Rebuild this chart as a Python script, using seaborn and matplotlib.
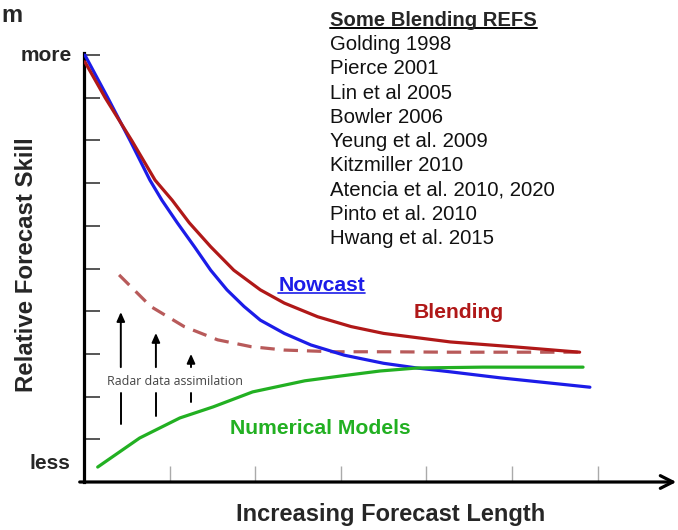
import matplotlib
matplotlib.use("Agg")
import matplotlib.pyplot as plt
from matplotlib.lines import Line2D
from matplotlib.transforms import IdentityTransform
import pandas as pd
import seaborn as sns

# Relative forecast skill versus forecast length (arbitrary units)
nowcast_x = [0.01, 0.28, 0.54, 0.77, 0.91, 1.09, 1.29, 1.48, 1.67, 1.87, 2.06, 2.34,
             2.65, 3.04, 3.50, 3.89, 4.28, 4.86, 5.91]
nowcast_y = [10.0, 8.99, 7.99, 7.07, 6.60, 6.07, 5.51, 4.96, 4.50, 4.11, 3.79, 3.48,
             3.21, 2.97, 2.78, 2.67, 2.58, 2.44, 2.22]

blending_x = [0.01, 0.25, 0.56, 0.83, 1.03, 1.23, 1.48, 1.75, 2.06, 2.34, 2.73, 3.12,
              3.50, 4.28, 5.06, 5.79]
blending_y = [9.84, 8.99, 7.99, 7.07, 6.60, 6.07, 5.51, 4.96, 4.50, 4.19, 3.87, 3.64,
              3.48, 3.28, 3.16, 3.04]

nwp_x = [0.16, 0.65, 1.12, 1.51, 1.97, 2.58, 2.99, 3.46, 3.89, 4.66, 5.83]
nwp_y = [0.35, 1.03, 1.50, 1.76, 2.11, 2.37, 2.48, 2.60, 2.67, 2.69, 2.69]

assim_x = [0.41, 0.78, 1.17, 1.56, 1.95, 2.34, 2.92, 3.50, 4.28, 5.79]
assim_y = [4.85, 4.11, 3.64, 3.33, 3.17, 3.09, 3.05, 3.05, 3.04, 3.04]

# radar data assimilation arrows: x position, head, shaft end, lower stroke
arrow_x = [0.43, 0.84, 1.25]
arrow_top = [3.98, 3.49, 3.00]
arrow_bottom = [2.69, 2.69, 2.69]
stroke_top = [2.08, 2.08, 2.08]
stroke_bottom = [1.36, 1.55, 1.87]

skill_ticks = [1, 2, 3, 4, 5, 6, 7, 8, 9, 10]
length_ticks = [1, 2, 3, 4, 5, 6]

references = ["Golding 1998", "Pierce 2001", "Lin et al 2005", "Bowler 2006",
              "Yeung et al. 2009", "Kitzmiller 2010", "Atencia et al. 2010, 2020",
              "Pinto et al. 2010", "Hwang et al. 2015"]

BLUE = "#1c1ce8"
RED = "#b01818"
GREEN = "#22b022"
DASH = "#b85a5a"

sns.set_theme(style="white")
plt.rcParams["font.family"] = ["Liberation Sans", "DejaVu Sans"]

W, H = 678, 530
fig = plt.figure(figsize=(W / 100, H / 100), dpi=100)
XS, YS = 85.6, 42.7  # pixels per data unit
ax = fig.add_axes([84 / W, 48 / H, (W - 84) / W, 482 / H])
ax.set_xlim(0, (W - 84) / XS)
ax.set_ylim(0, 482 / YS)

df = pd.concat([
    pd.DataFrame({"length": nowcast_x, "skill": nowcast_y, "curve": "Nowcast"}),
    pd.DataFrame({"length": blending_x, "skill": blending_y, "curve": "Blending"}),
    pd.DataFrame({"length": nwp_x, "skill": nwp_y, "curve": "Numerical Models"}),
])
sns.lineplot(data=df, x="length", y="skill", hue="curve", sort=False,
             palette={"Nowcast": BLUE, "Blending": RED, "Numerical Models": GREEN},
             linewidth=2.3, legend=False, ax=ax, zorder=3,
             solid_joinstyle="round", solid_capstyle="round")
sns.lineplot(x=assim_x, y=assim_y, sort=False, color=DASH, linewidth=2.3,
             linestyle=(0, (4.5, 2.8)), ax=ax, zorder=2)

# axes frame
for s in ["top", "right", "bottom"]:
    ax.spines[s].set_visible(False)
ax.spines["left"].set_linewidth(2.3)
ax.spines["left"].set_color("black")
ax.spines["left"].set_bounds(0, 10.05)
ax.annotate("", xy=(6.92, 0), xytext=(-0.05, 0),
            arrowprops=dict(arrowstyle="->,head_length=0.75,head_width=0.38",
                            lw=2.3, color="black", shrinkA=0, shrinkB=0),
            annotation_clip=False)

ax.set_yticks(skill_ticks)
ax.set_xticks(length_ticks)
ax.set_yticklabels([])
ax.set_xticklabels([])
ax.tick_params(axis="y", direction="in", length=11.5, width=1.4, color="#555555", left=True)
ax.tick_params(axis="x", direction="in", length=11.5, width=1.0, color="#aaaaaa", bottom=True)
ax.set_xlabel("")
ax.set_ylabel("")

# radar data assimilation arrows
for x, t, b, st, sb in zip(arrow_x, arrow_top, arrow_bottom, stroke_top, stroke_bottom):
    ax.annotate("", xy=(x, t), xytext=(x, b),
                arrowprops=dict(arrowstyle="-|>,head_length=0.45,head_width=0.2",
                                lw=1.4, color="black", shrinkA=0, shrinkB=0))
    ax.plot([x, x], [st, sb], color="black", lw=1.4)
ax.text(0.27, 2.36, "Radar data assimilation", fontsize=8.9, color="#444444",
        family=["Open Sans", "DejaVu Sans"], ha="left", va="center")

# curve labels
t_now = ax.text(2.27, 4.61, "Nowcast", color=BLUE, fontsize=15.2, fontweight="bold",
                ha="left", va="center")
ax.text(3.85, 3.96, "Blending", color=RED, fontsize=15.2, fontweight="bold",
        ha="left", va="center")
ax.text(1.70, 1.26, "Numerical Models", color=GREEN, fontsize=15.2, fontweight="bold",
        ha="left", va="center")

# axis labels
ax.text(-0.14, 9.98, "more", fontsize=15, fontweight="bold", ha="right", va="center",
        clip_on=False)
ax.text(-0.16, 0.44, "less", fontsize=15, fontweight="bold", ha="right", va="center",
        clip_on=False)
fig.text(27 / W, 1 - 265 / H, "Relative Forecast Skill", rotation=90, fontsize=17.3,
         fontweight="bold", ha="center", va="center")
fig.text(391 / W, 1 - 515 / H, "Increasing Forecast Length", fontsize=17,
         fontweight="bold", ha="center", va="center")
fig.text(1 / W, 1 - 16 / H, "m", fontsize=17, fontweight="bold", ha="left", va="center")

# reference list
t_head = fig.text(330 / W, 1 - 20 / H, "Some Blending REFS", fontsize=14.6,
                  fontweight="bold", ha="left", va="center")
for i, ref in enumerate(references):
    fig.text(330 / W, 1 - (44.5 + 24.3 * i) / H, ref, fontsize=14.7,
             ha="left", va="center", color="#111111")

# underline selected labels
fig.canvas.draw()
renderer = fig.canvas.get_renderer()
for t, col, lw in [(t_head, "black", 1.4), (t_now, BLUE, 1.2)]:
    bb = t.get_window_extent(renderer)
    fig.add_artist(Line2D([bb.x0, bb.x1], [bb.y0 + 1.5, bb.y0 + 1.5], color=col, lw=lw,
                          transform=IdentityTransform()))

fig.savefig("out.png", dpi=100)
